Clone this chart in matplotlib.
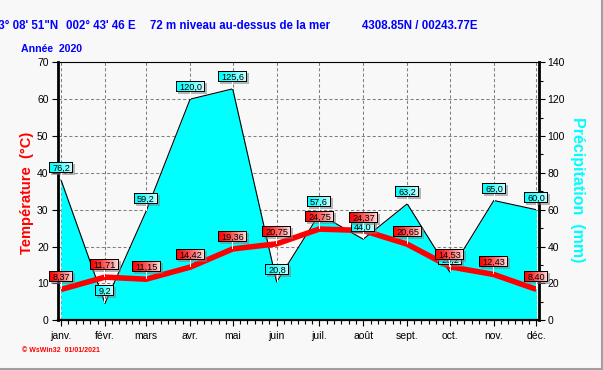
from __future__ import annotations

import numpy as np
import matplotlib

matplotlib.use("Agg")
import matplotlib.pyplot as plt
from matplotlib.lines import Line2D
from matplotlib.ticker import FixedLocator, MultipleLocator


MONTHS = ["janv.", "févr.", "mars", "avr.", "mai", "juin",
          "juil.", "août", "sept.", "oct.", "nov.", "déc."]
MONTH_STARTS = ["2020-01-01", "2020-02-01", "2020-03-01", "2020-04-01",
                "2020-05-01", "2020-06-01", "2020-07-01", "2020-08-01",
                "2020-09-01", "2020-10-01", "2020-11-01", "2020-12-01"]
TEMPERATURE = [8.37, 11.71, 11.15, 14.42, 19.36, 20.75,
               24.75, 24.37, 20.65, 14.53, 12.43, 8.40]
PRECIPITATION = [76.2, 9.2, 59.2, 120.0, 125.6, 20.8,
                 57.6, 44.0, 63.2, 26.2, 65.0, 60.0]
TEMP_TICKS = list(range(0, 71, 10))
PRECIP_TICKS = list(range(0, 141, 20))

W, H, DPI = 603, 370, 100
BG = "#f8f8f8"
BLUE = "#0000ff"
RED = "#ff0000"
CYAN = "#00ffff"

plt.rcParams.update({
    "font.family": ["Liberation Sans", "DejaVu Sans"],
    "font.size": 7.5,
})

days = (np.array(MONTH_STARTS, dtype="datetime64[D]")
        - np.datetime64("2020-01-01")).astype(float)
# six minor ticks per month
minor = []
for a, b in zip(days[:-1], days[1:]):
    minor.extend(a + (b - a) * k / 6 for k in range(1, 6))

fig = plt.figure(figsize=(W / DPI, H / DPI), dpi=DPI, facecolor=BG)
rect = [58.3 / W, 49.7 / H, (539.2 - 58.3) / W, (320.3 - 62.3) / H]
xlim = (-1.9, 337.0)

# back axes: precipitation (right axis), grid and fill
ax_p = fig.add_axes(rect, label="precip")
ax_p.set_facecolor(BG)
ax_p.set_xlim(*xlim)
ax_p.set_ylim(0, 140)
ax_p.yaxis.tick_right()
ax_p.set_yticks(PRECIP_TICKS)
ax_p.yaxis.set_minor_locator(MultipleLocator(10))
ax_p.set_xticks(days)
ax_p.tick_params(axis="x", length=0, labelbottom=False)
ax_p.tick_params(axis="y", which="major", direction="out", length=4, width=0.8, pad=2)
ax_p.tick_params(axis="y", which="minor", direction="out", length=3, width=0.8)
ax_p.set_axisbelow(True)
ax_p.grid(True, color="#808080", linestyle=(0, (3, 2.2)), linewidth=0.75)
for side in ["left", "top", "bottom"]:
    ax_p.spines[side].set_visible(False)
ax_p.spines["right"].set_linewidth(2.0)

ax_p.fill_between(days, PRECIPITATION, 0, color=CYAN, linewidth=0, zorder=2)
ax_p.plot(days, PRECIPITATION, color="black", linewidth=0.8, zorder=3)

# front axes: temperature (left axis)
ax_t = fig.add_axes(rect, label="temp")
ax_t.patch.set_visible(False)
ax_t.set_xlim(*xlim)
ax_t.set_ylim(0, 70)
ax_t.set_yticks(TEMP_TICKS)
ax_t.set_xticks(days)
ax_t.set_xticklabels(MONTHS)
ax_t.xaxis.set_minor_locator(FixedLocator(minor))
ax_t.tick_params(axis="both", which="major", direction="out", length=4, width=0.8, pad=3)
ax_t.tick_params(axis="x", which="major", pad=4)
ax_t.tick_params(axis="x", which="minor", direction="out", length=3, width=0.8)
ax_t.spines["right"].set_visible(False)
ax_t.spines["left"].set_linewidth(2.0)
ax_t.spines["bottom"].set_linewidth(1.6)
ax_t.spines["top"].set_linewidth(0.8)

ax_t.plot(days, TEMPERATURE, color=RED, linewidth=4, solid_capstyle="butt",
          solid_joinstyle="miter", zorder=4)

renderer = fig.canvas.get_renderer()


def value_box(x_px, y_px, text, left_rgb, right_rgb, z):
    box_h, gap = 11, 7
    txt = fig.text(0, 0, text, fontsize=6.6, ha="center", va="center",
                   color="black", zorder=z + 1)
    w = int(np.ceil(txt.get_window_extent(renderer).width)) + 6
    left = int(round(x_px - w / 2))
    yo = int(round(y_px))
    img = np.zeros((box_h + gap, w + 2, 4))
    img[2:box_h + 2, 2:w + 2] = (0.5, 0.5, 0.5, 0.55)
    frac = np.linspace(0, 1, w)[None, :, None] ** 1.3
    img[:box_h, :w, :3] = (1 - frac) * np.array(left_rgb) + frac * np.array(right_rgb)
    img[:box_h, :w, 3] = 1
    img[0, :w] = (0, 0, 0, 1)
    img[box_h - 1, :w] = (0, 0, 0, 1)
    img[:box_h, 0] = (0, 0, 0, 1)
    img[:box_h, w - 1] = (0, 0, 0, 1)
    img[box_h:, w // 2] = (1, 1, 1, 1)
    fig.figimage(img, xo=left, yo=yo, origin="upper", zorder=z)
    txt.set_position(((left + w / 2) / W, (yo + gap + box_h / 2 - 0.5) / H))


for d, p in zip(days, PRECIPITATION):
    x, y = ax_p.transData.transform((d, p))
    value_box(x, y, f"{p:.1f}".replace(".", ","), (0, 1, 1), (0.8, 1, 1), 10)

for d, t in zip(days, TEMPERATURE):
    x, y = ax_t.transData.transform((d, t))
    value_box(x, y, f"{t:.2f}".replace(".", ","), (1, 0, 0), (1, 0.88, 0.88), 20)

# titles and axis names
title_font = dict(color=BLUE, fontsize=8.3, fontweight="bold", va="baseline")
fig.text(58 / W, (H - 29.3) / H, "43° 08' 51\"N", ha="right", **title_font)
fig.text(66 / W, (H - 29.3) / H, "002° 43' 46 E", ha="left", **title_font)
fig.text(150 / W, (H - 29.3) / H, "72 m niveau au-dessus de la mer", ha="left", **title_font)
fig.text(362 / W, (H - 29.3) / H, "4308.85N / 00243.77E", ha="left", **title_font)
fig.text(21 / W, (H - 52.3) / H, "Année  2020", color=BLUE, fontsize=7.6,
         fontweight="bold", ha="left", va="baseline")

fig.text(27.5 / W, (H - 192.5) / H, "Température  (°C)", color=RED, fontsize=10.5,
         fontweight="bold", rotation=90, ha="center", va="center")
fig.text(577 / W, (H - 190) / H, "Précipitation  (mm)", color=CYAN, fontsize=11.5,
         fontweight="bold", rotation=-90, ha="center", va="center")

fig.text(22 / W, (H - 351) / H, "© WsWin32  01/01/2021", color=RED, fontsize=5,
         fontweight="bold", ha="left", va="center")

# window frame on the right and bottom
fig.add_artist(Line2D([0, 1], [1 / H, 1 / H], transform=fig.transFigure,
                      color="#a0a0a0", linewidth=1.5))
fig.add_artist(Line2D([1 - 1.5 / W, 1 - 1.5 / W], [0, 1], transform=fig.transFigure,
                      color="#a0a0a0", linewidth=1.5))

fig.savefig("out.png", dpi=DPI, facecolor=BG)
